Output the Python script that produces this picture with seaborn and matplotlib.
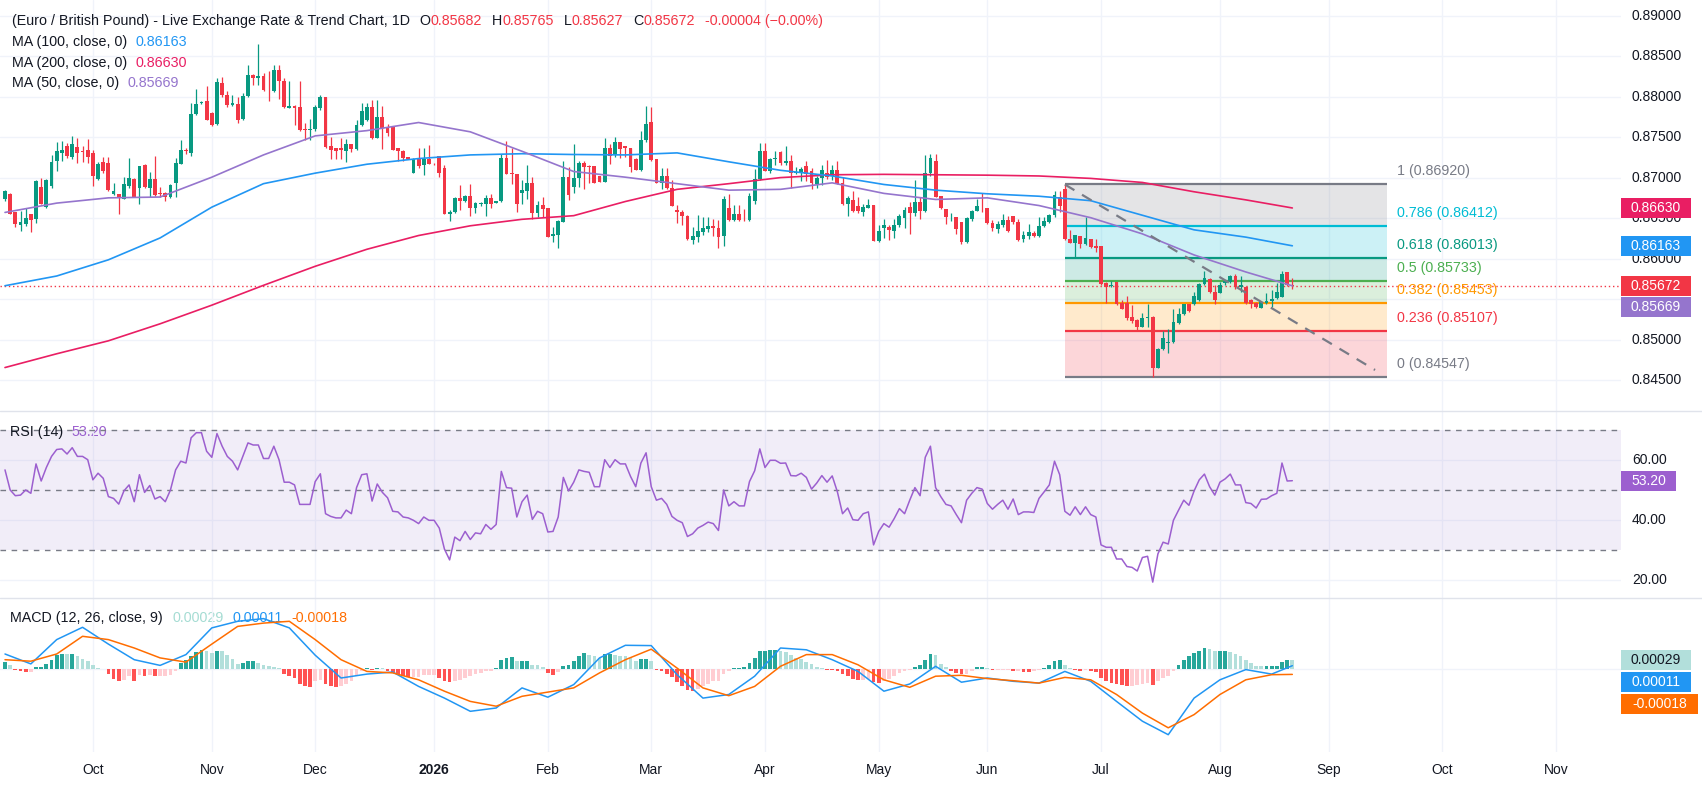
import numpy as np
import pandas as pd
import matplotlib
matplotlib.use("Agg")
import matplotlib.pyplot as plt
import matplotlib.transforms as mtrans
from matplotlib.patches import Rectangle
from matplotlib.lines import Line2D
import seaborn as sns

W, H = 1702, 791

# ---------------- data (EUR/GBP daily, 2025-09-08 .. 2026-08-21) ----------------
first_day = "2025-09-08"

opens = [
    0.86745, 0.86800, 0.86575, 0.86415, 0.86430, 0.86560, 0.86490, 0.86890, 0.86645, 0.86900,
    0.87210, 0.87310, 0.87390, 0.87260, 0.87380, 0.87330, 0.87350, 0.87310, 0.86990, 0.87195,
    0.87190, 0.86800, 0.86800, 0.86745, 0.86900, 0.86985, 0.86880, 0.87160, 0.86880, 0.86985,
    0.86810, 0.86820, 0.86760, 0.86940, 0.87170, 0.87345, 0.87310, 0.87790, 0.87925, 0.87945,
    0.87805, 0.87670, 0.88170, 0.88030, 0.87900, 0.87915, 0.87730, 0.88010, 0.88275, 0.88235,
    0.88265, 0.88090, 0.88080, 0.88330, 0.88195, 0.87865, 0.87895, 0.87875, 0.87610, 0.87590,
    0.87600, 0.87865, 0.87995, 0.87390, 0.87370, 0.87370, 0.87330, 0.87420, 0.87360, 0.87650,
    0.87720, 0.87875, 0.87495, 0.87750, 0.87630, 0.87630, 0.87365, 0.87330, 0.87260, 0.87065,
    0.87245, 0.87155, 0.87235, 0.87175, 0.87270, 0.87125, 0.86560, 0.86575, 0.86750, 0.86710,
    0.86780, 0.86635, 0.86675, 0.86675, 0.86755, 0.86690, 0.86715, 0.87250, 0.87060, 0.87045,
    0.86820, 0.86840, 0.86940, 0.86565, 0.86670, 0.86625, 0.86285, 0.86300, 0.86460, 0.87010,
    0.86890, 0.86995, 0.87180, 0.87150, 0.87145, 0.87025, 0.86955, 0.87375, 0.87280, 0.87440,
    0.87390, 0.87375, 0.87240, 0.87095, 0.87470, 0.87695, 0.87230, 0.86940, 0.87025, 0.86875,
    0.86610, 0.86585, 0.86535, 0.86240, 0.86270, 0.86330, 0.86370, 0.86410, 0.86385, 0.86280,
    0.86635, 0.86480, 0.86560, 0.86485, 0.86480, 0.86720, 0.86990, 0.87335, 0.87090, 0.87235,
    0.87315, 0.87185, 0.87205, 0.87065, 0.87065, 0.87145, 0.87085, 0.86930, 0.87005, 0.87065,
    0.87025, 0.87095, 0.86940, 0.86685, 0.86725, 0.86655, 0.86575, 0.86635, 0.86670, 0.86220,
    0.86385, 0.86395, 0.86345, 0.86415, 0.86500, 0.86640, 0.86565, 0.86700, 0.86590, 0.87065,
    0.87205, 0.86780, 0.86615, 0.86500, 0.86515, 0.86455, 0.86210, 0.86495, 0.86595, 0.86660,
    0.86635, 0.86440, 0.86375, 0.86425, 0.86485, 0.86525, 0.86460, 0.86250, 0.86290, 0.86320,
    0.86285, 0.86405, 0.86455, 0.86540, 0.86765, 0.86865, 0.86250, 0.86200, 0.86280, 0.86180,
    0.86245, 0.86155, 0.86155, 0.85700, 0.85665, 0.85710, 0.85460, 0.85460, 0.85290, 0.85250,
    0.85165, 0.85275, 0.85290, 0.84660, 0.84890, 0.84960, 0.84970, 0.85205, 0.85320, 0.85445,
    0.85445, 0.85495, 0.85690, 0.85750, 0.85595, 0.85585, 0.85700, 0.85720, 0.85790, 0.85650,
    0.85655, 0.85495, 0.85460, 0.85400, 0.85460, 0.85485, 0.85515, 0.85535, 0.85835, 0.85682,
]
highs = [
    0.86850, 0.86820, 0.86575, 0.86590, 0.86630, 0.86560, 0.86980, 0.87000, 0.86985, 0.87290,
    0.87450, 0.87460, 0.87430, 0.87520, 0.87490, 0.87400, 0.87480, 0.87350, 0.87200, 0.87260,
    0.87260, 0.86940, 0.86800, 0.87010, 0.87250, 0.87000, 0.87150, 0.87170, 0.87080, 0.87270,
    0.86890, 0.86830, 0.86920, 0.87250, 0.87470, 0.87370, 0.87920, 0.88100, 0.87950, 0.88130,
    0.87810, 0.88230, 0.88250, 0.88080, 0.88030, 0.88000, 0.88050, 0.88400, 0.88290, 0.88650,
    0.88300, 0.88320, 0.88400, 0.88400, 0.88230, 0.88200, 0.87900, 0.88200, 0.87680, 0.87730,
    0.87900, 0.88030, 0.88000, 0.87500, 0.87370, 0.87490, 0.87480, 0.87420, 0.87720, 0.87930,
    0.87930, 0.87960, 0.87960, 0.87890, 0.87670, 0.87640, 0.87370, 0.87340, 0.87260, 0.87245,
    0.87370, 0.87370, 0.87410, 0.87180, 0.87270, 0.87160, 0.86610, 0.86760, 0.86910, 0.86790,
    0.86920, 0.86700, 0.86700, 0.86790, 0.86800, 0.86720, 0.87300, 0.87455, 0.87370, 0.87050,
    0.86980, 0.87160, 0.87010, 0.86720, 0.86760, 0.86630, 0.86390, 0.86480, 0.87205, 0.87135,
    0.87420, 0.87205, 0.87215, 0.87155, 0.87145, 0.87030, 0.87490, 0.87420, 0.87510, 0.87450,
    0.87390, 0.87375, 0.87245, 0.87585, 0.87890, 0.87880, 0.87235, 0.87125, 0.87125, 0.86980,
    0.86665, 0.86605, 0.86545, 0.86390, 0.86545, 0.86520, 0.86520, 0.86490, 0.86480, 0.86780,
    0.86800, 0.86670, 0.86670, 0.86615, 0.86810, 0.87105, 0.87430, 0.87430, 0.87245, 0.87335,
    0.87330, 0.87400, 0.87280, 0.87135, 0.87135, 0.87215, 0.87125, 0.87025, 0.87165, 0.87225,
    0.87160, 0.87205, 0.87010, 0.86780, 0.86835, 0.86765, 0.86680, 0.86740, 0.86670, 0.86415,
    0.86495, 0.86415, 0.86495, 0.86555, 0.86640, 0.86705, 0.86970, 0.86760, 0.87290, 0.87295,
    0.87295, 0.86780, 0.86615, 0.86565, 0.86515, 0.86455, 0.86515, 0.86605, 0.86745, 0.86815,
    0.86635, 0.86480, 0.86475, 0.86555, 0.86525, 0.86525, 0.86490, 0.86340, 0.86435, 0.86350,
    0.86520, 0.86520, 0.86560, 0.86840, 0.86845, 0.86920, 0.86355, 0.86295, 0.86280, 0.86520,
    0.86245, 0.86250, 0.86155, 0.85720, 0.85730, 0.85720, 0.85495, 0.85540, 0.85430, 0.85255,
    0.85330, 0.85440, 0.85300, 0.84900, 0.85115, 0.85135, 0.85380, 0.85390, 0.85450, 0.85450,
    0.85595, 0.85705, 0.85855, 0.85760, 0.85680, 0.85720, 0.85740, 0.85800, 0.85815, 0.85790,
    0.85665, 0.85500, 0.85475, 0.85480, 0.85575, 0.85615, 0.85705, 0.85855, 0.85840, 0.85765,
]
lows = [
    0.86715, 0.86550, 0.86390, 0.86350, 0.86410, 0.86330, 0.86450, 0.86675, 0.86635, 0.86880,
    0.87090, 0.87210, 0.87250, 0.87240, 0.87190, 0.87200, 0.87190, 0.86900, 0.86980, 0.87060,
    0.86840, 0.86790, 0.86560, 0.86740, 0.86880, 0.86760, 0.86680, 0.86880, 0.86760, 0.86780,
    0.86760, 0.86720, 0.86755, 0.86760, 0.87170, 0.87300, 0.87270, 0.87780, 0.87910, 0.87720,
    0.87640, 0.87660, 0.88000, 0.87880, 0.87890, 0.87680, 0.87720, 0.88000, 0.88150, 0.88150,
    0.88080, 0.87950, 0.88060, 0.87980, 0.87860, 0.87860, 0.87660, 0.87580, 0.87470, 0.87470,
    0.87580, 0.87840, 0.87370, 0.87230, 0.87230, 0.87230, 0.87200, 0.87320, 0.87350, 0.87640,
    0.87700, 0.87480, 0.87490, 0.87360, 0.87520, 0.87340, 0.87210, 0.87210, 0.87230, 0.87065,
    0.87120, 0.87040, 0.87170, 0.87160, 0.87010, 0.86550, 0.86470, 0.86570, 0.86600, 0.86700,
    0.86530, 0.86570, 0.86660, 0.86530, 0.86630, 0.86690, 0.86700, 0.87045, 0.86930, 0.86580,
    0.86675, 0.86735, 0.86495, 0.86515, 0.86515, 0.86270, 0.86210, 0.86135, 0.86455, 0.86725,
    0.86820, 0.86890, 0.86870, 0.86940, 0.86940, 0.86950, 0.86945, 0.87175, 0.87265, 0.87245,
    0.87265, 0.87070, 0.87095, 0.87085, 0.87450, 0.87205, 0.86935, 0.86870, 0.86860, 0.86650,
    0.86440, 0.86425, 0.86230, 0.86190, 0.86210, 0.86300, 0.86330, 0.86280, 0.86130, 0.86165,
    0.86475, 0.86475, 0.86475, 0.86475, 0.86475, 0.86685, 0.86980, 0.87085, 0.87060, 0.87165,
    0.87165, 0.87165, 0.86875, 0.87045, 0.86965, 0.86965, 0.86860, 0.86875, 0.86915, 0.86985,
    0.86970, 0.86930, 0.86670, 0.86535, 0.86575, 0.86565, 0.86535, 0.86635, 0.86220, 0.86210,
    0.86260, 0.86240, 0.86260, 0.86400, 0.86385, 0.86310, 0.86535, 0.86495, 0.86585, 0.87025,
    0.86760, 0.86615, 0.86435, 0.86475, 0.86310, 0.86190, 0.86200, 0.86475, 0.86595, 0.86575,
    0.86435, 0.86350, 0.86320, 0.86400, 0.86330, 0.86435, 0.86220, 0.86210, 0.86250, 0.86270,
    0.86270, 0.86390, 0.86440, 0.86520, 0.86580, 0.86240, 0.86200, 0.86020, 0.86130, 0.86170,
    0.86140, 0.86090, 0.85680, 0.85460, 0.85650, 0.85430, 0.85380, 0.85250, 0.85210, 0.85110,
    0.85165, 0.85165, 0.84547, 0.84650, 0.84880, 0.84835, 0.84960, 0.85200, 0.85310, 0.85350,
    0.85430, 0.85485, 0.85680, 0.85585, 0.85440, 0.85575, 0.85680, 0.85705, 0.85635, 0.85595,
    0.85450, 0.85390, 0.85390, 0.85390, 0.85450, 0.85405, 0.85500, 0.85530, 0.85665, 0.85627,
]
closes = [
    0.86840, 0.86560, 0.86430, 0.86460, 0.86510, 0.86480, 0.86960, 0.86685, 0.86975, 0.87195,
    0.87330, 0.87350, 0.87270, 0.87415, 0.87310, 0.87320, 0.87260, 0.87025, 0.87175, 0.87085,
    0.86850, 0.86840, 0.86760, 0.86920, 0.87005, 0.86765, 0.87145, 0.86890, 0.86985, 0.86785,
    0.86800, 0.86765, 0.86915, 0.87180, 0.87340, 0.87335, 0.87795, 0.87915, 0.87935, 0.87720,
    0.87660, 0.88185, 0.88030, 0.87905, 0.87925, 0.87720, 0.88010, 0.88275, 0.88235, 0.88260,
    0.88090, 0.88085, 0.88330, 0.88195, 0.87875, 0.87895, 0.87865, 0.87590, 0.87590, 0.87605,
    0.87875, 0.87995, 0.87380, 0.87350, 0.87330, 0.87350, 0.87415, 0.87360, 0.87660, 0.87830,
    0.87875, 0.87495, 0.87750, 0.87620, 0.87550, 0.87350, 0.87330, 0.87250, 0.87240, 0.87235,
    0.87145, 0.87235, 0.87175, 0.87170, 0.87065, 0.86560, 0.86580, 0.86750, 0.86710, 0.86780,
    0.86635, 0.86695, 0.86695, 0.86755, 0.86685, 0.86715, 0.87250, 0.87055, 0.87050, 0.86685,
    0.86850, 0.86940, 0.86565, 0.86670, 0.86615, 0.86270, 0.86310, 0.86475, 0.87010, 0.86790,
    0.87005, 0.87180, 0.87135, 0.87140, 0.86940, 0.86955, 0.87375, 0.87275, 0.87440, 0.87360,
    0.87370, 0.87135, 0.87095, 0.87475, 0.87670, 0.87220, 0.86940, 0.87025, 0.86875, 0.86655,
    0.86575, 0.86525, 0.86250, 0.86280, 0.86340, 0.86380, 0.86410, 0.86385, 0.86270, 0.86740,
    0.86480, 0.86560, 0.86480, 0.86480, 0.86780, 0.86990, 0.87330, 0.87090, 0.87240, 0.87245,
    0.87185, 0.87215, 0.87065, 0.87075, 0.87105, 0.87050, 0.86940, 0.86995, 0.87095, 0.87010,
    0.87095, 0.86930, 0.86685, 0.86750, 0.86595, 0.86595, 0.86645, 0.86670, 0.86220, 0.86340,
    0.86415, 0.86360, 0.86425, 0.86525, 0.86600, 0.86565, 0.86700, 0.86590, 0.87065, 0.87250,
    0.86765, 0.86635, 0.86515, 0.86505, 0.86375, 0.86210, 0.86505, 0.86590, 0.86655, 0.86650,
    0.86440, 0.86380, 0.86435, 0.86485, 0.86350, 0.86455, 0.86240, 0.86295, 0.86330, 0.86285,
    0.86410, 0.86470, 0.86540, 0.86785, 0.86650, 0.86250, 0.86200, 0.86295, 0.86180, 0.86265,
    0.86150, 0.86140, 0.85690, 0.85650, 0.85680, 0.85440, 0.85380, 0.85270, 0.85240, 0.85165,
    0.85275, 0.85290, 0.84650, 0.84890, 0.85020, 0.84970, 0.85220, 0.85320, 0.85440, 0.85360,
    0.85540, 0.85690, 0.85770, 0.85595, 0.85495, 0.85680, 0.85725, 0.85790, 0.85650, 0.85680,
    0.85460, 0.85440, 0.85405, 0.85475, 0.85485, 0.85500, 0.85595, 0.85820, 0.85676, 0.85672,
]

# moving averages at every 10th bar
ma_idx = [0, 10, 20, 30, 40, 50, 60, 70, 80, 90, 100, 110, 120, 130, 140, 150,
          160, 170, 180, 190, 200, 210, 220, 230, 240, 249]
ma50 = [0.86575, 0.86690, 0.86755, 0.86765, 0.87010, 0.87285, 0.87520, 0.87585, 0.87685,
        0.87570, 0.87330, 0.87080, 0.87010, 0.86930, 0.86850, 0.86860, 0.86940, 0.86810,
        0.86735, 0.86755, 0.86660, 0.86510, 0.86310, 0.86050, 0.85840, 0.85669]
ma100 = [0.85670, 0.85790, 0.85990, 0.86260, 0.86640, 0.86930, 0.87060, 0.87170, 0.87240,
         0.87285, 0.87300, 0.87290, 0.87285, 0.87310, 0.87200, 0.87095, 0.87025, 0.86920,
         0.86850, 0.86805, 0.86775, 0.86720, 0.86540, 0.86360, 0.86270, 0.86163]
ma200 = [0.84660, 0.84830, 0.84990, 0.85200, 0.85430, 0.85675, 0.85910, 0.86120, 0.86290,
         0.86410, 0.86490, 0.86535, 0.86710, 0.86860, 0.86930, 0.87005, 0.87040, 0.87045,
         0.87040, 0.87035, 0.87025, 0.86995, 0.86945, 0.86830, 0.86730, 0.86630]

rsi = [
    56.8, 50.1, 48.2, 48.4, 50.1, 49.0, 58.8, 53.1, 57.6, 61.3,
    63.6, 63.8, 62.1, 64.2, 61.3, 61.3, 60.2, 53.5, 55.7, 54.0,
    47.9, 47.3, 45.4, 49.8, 51.8, 46.2, 55.2, 49.3, 51.6, 47.1,
    47.9, 46.2, 50.1, 56.8, 59.7, 59.1, 67.5, 69.2, 69.2, 63.0,
    61.0, 68.9, 64.7, 61.3, 59.7, 56.8, 61.3, 65.8, 65.1, 65.1,
    60.6, 60.6, 64.7, 60.2, 52.7, 52.7, 51.8, 45.3, 45.3, 45.3,
    52.9, 55.5, 42.2, 41.3, 40.8, 40.8, 43.4, 42.2, 50.9, 55.2,
    55.5, 46.4, 52.1, 49.3, 47.5, 43.0, 42.8, 41.1, 40.8, 40.0,
    38.9, 41.1, 40.0, 40.0, 37.4, 30.4, 26.8, 34.4, 33.2, 36.3,
    33.6, 35.8, 35.5, 38.6, 37.0, 38.6, 56.3, 50.9, 50.7, 41.1,
    46.2, 48.4, 40.3, 43.0, 42.2, 36.1, 36.3, 41.1, 54.3, 49.8,
    52.7, 56.8, 56.3, 56.0, 51.2, 51.2, 60.2, 57.6, 60.2, 58.8,
    58.8, 54.6, 51.2, 59.1, 62.5, 51.2, 46.7, 47.3, 45.3, 41.3,
    40.0, 39.2, 34.6, 35.5, 37.4, 38.3, 39.4, 38.9, 36.6, 50.1,
    44.8, 46.2, 44.8, 44.8, 52.9, 56.5, 63.8, 57.6, 60.0, 60.0,
    59.0, 59.1, 54.9, 54.8, 55.7, 54.3, 50.4, 52.4, 54.9, 52.7,
    54.8, 49.5, 42.2, 44.1, 40.2, 40.0, 42.2, 42.8, 31.8, 36.3,
    38.9, 37.7, 40.6, 43.9, 42.2, 46.7, 50.9, 48.2, 61.0, 64.7,
    50.9, 47.9, 45.3, 44.8, 41.9, 39.2, 46.7, 49.0, 50.9, 50.4,
    45.6, 43.7, 45.3, 46.7, 43.7, 47.1, 41.9, 42.8, 42.8, 42.6,
    47.3, 49.5, 51.8, 59.7, 55.2, 43.0, 41.7, 44.5, 41.9, 44.5,
    41.9, 41.1, 31.8, 31.0, 31.0, 27.1, 27.1, 24.6, 24.3, 23.1,
    27.6, 28.0, 19.4, 28.8, 32.7, 32.1, 40.0, 43.4, 46.7, 45.0,
    49.8, 53.5, 55.4, 51.2, 48.4, 52.7, 53.8, 55.4, 51.8, 51.8,
    45.9, 45.6, 44.1, 47.0, 47.1, 48.2, 49.0, 59.1, 53.1, 53.2,
]

# MACD (12, 26, 9), values in units of 1e-5
macd_idx = [0, 5, 10, 15, 20, 25, 30, 35, 40, 45, 50, 55, 60, 65, 70, 75, 80, 85, 90, 95,
            100, 105, 110, 115, 120, 125, 130, 135, 140, 145, 150, 155, 160, 165, 170, 175,
            180, 185, 190, 195, 200, 205, 210, 215, 220, 225, 230, 235, 240, 245, 249]
macd_line = [50, 17, 98, 139, 83, 31, 12, 48, 137, 159, 168, 137, 46, -30, -17, -10, -58,
             -97, -141, -130, -63, -94, -52, 37, 79, 78, -19, -97, -85, -24, 70, 64, 31, -8,
             -74, -50, 9, -44, -30, -41, -47, -8, -41, -108, -174, -219, -97, -36, -2, -17, 11]
macd_signal = [31, 26, 50, 109, 98, 70, 37, 23, 83, 142, 153, 159, 98, 31, -8, -13, -36,
               -74, -108, -124, -91, -77, -63, -13, 31, 66, 3, -63, -89, -58, 9, 48, 48, 14,
               -36, -61, -24, -21, -32, -39, -47, -28, -36, -85, -147, -196, -152, -85, -36,
               -19, -18]
macd_hist = [
    25, 14, -2, -8, -11, -11, 7, 7, 17, 31,
    46, 51, 50, 51, 42, 34, 28, 12, 3, -1,
    -17, -32, -41, -36, -24, -39, -21, -24, -19, -24,
    -24, -24, -21, -8, 20, 31, 42, 57, 64, 59,
    53, 61, 59, 46, 34, 17, 20, 26, 26, 20,
    14, 9, 7, 3, -17, -24, -30, -50, -58, -61,
    -41, -36, -50, -58, -61, -55, -50, -39, -24, -8,
    4, -4, 4, 3, -8, -13, -21, -24, -28, -28,
    -28, -21, -21, -21, -30, -41, -43, -41, -36, -30,
    -24, -17, -13, -8, -6, 3, 31, 37, 40, 28,
    28, 28, 14, 12, 6, -13, -21, -11, 9, 14,
    26, 42, 53, 46, 45, 37, 50, 51, 46, 45,
    42, 37, 28, 34, 35, 26, -4, -8, -17, -28,
    -43, -58, -69, -74, -65, -58, -50, -41, -39, -17,
    -8, 3, 3, 7, 20, 37, 59, 61, 64, 64,
    59, 57, 46, 37, 34, 23, 17, 6, 3, -2,
    -4, -8, -17, -24, -32, -36, -36, -32, -43, -47,
    -41, -32, -24, -13, -8, -2, 7, 14, 31, 50,
    46, 17, 7, -8, -13, -17, -17, -8, 7, 8,
    3, -4, -4, -4, -4, -8, -8, -10, -11, -8,
    -4, 3, 12, 26, 31, 14, 3, -2, -8, -4,
    -8, -11, -30, -41, -47, -50, -54, -58, -58, -54,
    -50, -47, -52, -41, -30, -24, -8, 14, 31, 42,
    53, 61, 70, 67, 61, 61, 61, 57, 50, 42,
    31, 20, 11, 9, 9, 9, 9, 24, 30, 29,
]

price_ticks = [0.845, 0.850, 0.855, 0.860, 0.865, 0.870, 0.875, 0.880, 0.885, 0.890]
rsi_ticks = [20, 40, 60]

# fibonacci retracement tool (anchored on the June high and the July low)
fib_levels = [0, 0.236, 0.382, 0.5, 0.618, 0.786, 1]
fib_colors = ["#787B86", "#F23645", "#FF9800", "#4CAF50", "#089981", "#00BCD4", "#787B86"]
fib_low, fib_high = 0.845466, 0.869200
fib_start, fib_end = 205, 267.3
trend_x = [205, 265]
trend_y = [0.86920, 0.84630]

# ---------------- styling ----------------
sns.set_theme(style="white")
plt.rcParams["font.family"] = ["Liberation Sans", "DejaVu Sans"]
TXT = "#131722"
GRID = "#F0F3FA"
GREEN, RED = "#089981", "#F23645"
C_MA50, C_MA100, C_MA200 = "#9575CD", "#2196F3", "#E91E63"
C_RSI = "#9C5FCF"
C_MACD, C_SIG = "#2196F3", "#FF6D00"
FS = 10
FS_LEG = 10.3

n = len(closes)
x = np.arange(n)
o, h, l, c = (np.array(v) for v in (opens, highs, lows, closes))

dates = pd.bdate_range(first_day, periods=n + 70)
month_pos, month_lab = [], []
for i in range(1, len(dates)):
    if dates[i].month != dates[i - 1].month:
        month_pos.append(i)
        month_lab.append(str(dates[i].year) if dates[i].month == 1 else dates[i].strftime("%b"))

fig = plt.figure(figsize=(W / 100, H / 100), dpi=100)
fig.patch.set_facecolor("white")


def panel(top, bottom):
    return fig.add_axes([0, 1 - bottom / H, 1621 / W, (bottom - top) / H])


ax_p = panel(0, 411)
ax_r = panel(411, 598)
ax_m = panel(598, 752)
x_left = -5 / 5.17
x_right = 1616 / 5.17
for ax in (ax_p, ax_r, ax_m):
    ax.set_xlim(x_left, x_right)
    ax.set_axis_off()
    for m in month_pos:
        ax.axvline(m, color=GRID, lw=1, zorder=0)

ax_p.set_ylim(0.860 - 152 / 8100, 0.860 + 259 / 8100)
ax_r.set_ylim(50 - 107.7 / 3, 50 + 79.3 / 3)
ax_m.set_ylim(-83 / 30000, 71 / 30000)

# ---------------- price panel ----------------
for p in price_ticks:
    ax_p.axhline(p, color=GRID, lw=1, zorder=0)

fib_p = [fib_low + f * (fib_high - fib_low) for f in fib_levels]
for i in range(len(fib_levels) - 1):
    ax_p.fill_between([fib_start, fib_end], fib_p[i], fib_p[i + 1],
                      color=fib_colors[i + 1], alpha=0.2, lw=0, zorder=1)
ax_p.hlines(fib_p, fib_start, fib_end, colors=fib_colors, lw=1.6, zorder=2)
for f, p, col in zip(fib_levels, fib_p, fib_colors):
    ax_p.annotate(f"{f:g} ({p:.5f})", xy=(fib_end, p), xytext=(10, 13),
                  textcoords="offset pixels", va="center", ha="left",
                  color=col, fontsize=FS_LEG, annotation_clip=False)

ax_p.axhline(c[-1], color=RED, lw=1, ls=(0, (1, 2)), zorder=2)

up = c >= o
col = np.where(up, GREEN, RED)
ax_p.vlines(x, l, h, colors=col, lw=0.9, zorder=3)
ax_p.bar(x, np.maximum(np.abs(c - o), 0.000015), bottom=np.minimum(o, c),
         width=0.74, color=col, lw=0, zorder=4)

for vals, colr in ((ma200, C_MA200), (ma100, C_MA100), (ma50, C_MA50)):
    sns.lineplot(x=ma_idx, y=vals, ax=ax_p, color=colr, lw=1.2, legend=False, zorder=5)

ax_p.plot(trend_x, trend_y, color="#787B86", lw=1.6, ls=(0, (5, 4)), zorder=6)

# ---------------- RSI panel ----------------
for v in rsi_ticks:
    ax_r.axhline(v, color=GRID, lw=1, zorder=0)
ax_r.axhspan(30, 70, color="#7E57C2", alpha=0.1, lw=0, zorder=1)
for v in (70, 50, 30):
    ax_r.axhline(v, color="#787B86", lw=1, ls=(0, (4, 4)), zorder=2)
sns.lineplot(x=x, y=rsi, ax=ax_r, color=C_RSI, lw=1.1, legend=False, zorder=3)

# ---------------- MACD panel ----------------
hist = np.array(macd_hist) * 1e-5
hcol = []
for i, v in enumerate(hist):
    prev = hist[i - 1] if i else v
    if v >= 0:
        hcol.append("#26A69A" if v >= prev else "#B2DFDB")
    else:
        hcol.append("#FF5252" if v < prev else "#FFCDD2")
ax_m.axhline(0, color=GRID, lw=1, zorder=0)
ax_m.bar(x, hist, width=0.72, color=hcol, lw=0, zorder=2)
sns.lineplot(x=macd_idx, y=np.array(macd_line) * 1e-5, ax=ax_m, color=C_MACD, lw=1.1,
             legend=False, zorder=3)
sns.lineplot(x=macd_idx, y=np.array(macd_signal) * 1e-5, ax=ax_m, color=C_SIG, lw=1.1,
             legend=False, zorder=4)

# ---------------- separators ----------------
for yy in (411, 598):
    fig.add_artist(Line2D([0, 1], [1 - yy / H] * 2, color="#E0E3EB", lw=1,
                          transform=fig.transFigure))


# ---------------- right price scale ----------------
def badges(ax, items, gap=21.5):
    pts = [[ax.transData.transform((0, v))[1], s, bg, fg] for v, s, bg, fg in items]
    pts.sort(key=lambda q: -q[0])
    for i in range(1, len(pts)):
        if pts[i - 1][0] - pts[i][0] < gap:
            pts[i][0] = pts[i - 1][0] - gap
    for yp, s, bg, fg in pts:
        wd = 18 + 7.4 * len(s)
        fig.add_artist(Rectangle((1621 / W, (yp - 10) / H), wd / W, 20 / H,
                                 transform=fig.transFigure, color=bg, lw=0, zorder=5))
        fig.text((1621 + wd / 2) / W, yp / H, s, color=fg, fontsize=FS, ha="center",
                 va="center", zorder=6)
    return [q[0] for q in pts]


def scale_labels(ax, ticks, fmt, taken):
    # like the price scale, skip a tick label that sits under a value badge
    for v in ticks:
        yp = ax.transData.transform((0, v))[1]
        if all(abs(yp - b) > 10 for b in taken):
            fig.text(1632 / W, yp / H, fmt.format(v), color=TXT, fontsize=FS, va="center")


taken_p = badges(ax_p, [(ma200[-1], f"{ma200[-1]:.5f}", C_MA200, "white"),
                        (ma100[-1], f"{ma100[-1]:.5f}", C_MA100, "white"),
                        (c[-1], f"{c[-1]:.5f}", RED, "white"),
                        (ma50[-1], f"{ma50[-1]:.5f}", C_MA50, "white")])
taken_r = badges(ax_r, [(rsi[-1], f"{rsi[-1]:.2f}", C_RSI, "white")])
badges(ax_m, [(hist[-1], f"{hist[-1]:.5f}", "#B2DFDB", TXT),
              (macd_line[-1] * 1e-5, f"{macd_line[-1] * 1e-5:.5f}", C_MACD, "white"),
              (macd_signal[-1] * 1e-5, f"{macd_signal[-1] * 1e-5:.5f}", C_SIG, "white")],
       gap=22)
scale_labels(ax_p, price_ticks, "{:.5f}", taken_p)
scale_labels(ax_r, rsi_ticks, "{:.2f}", taken_r)


# ---------------- legends ----------------
def chain(x0, y0, parts):
    t = fig.text(x0 / W, 1 - y0 / H, parts[0][0], color=parts[0][1], fontsize=FS_LEG,
                 va="center", ha="left")
    for s, colr, gap in parts[1:]:
        t = ax_p.annotate(s, xy=(1, 0), xycoords=t, xytext=(gap, 0),
                          textcoords="offset pixels", color=colr, fontsize=FS_LEG,
                          va="bottom", ha="left", annotation_clip=False)


chg = c[-1] - c[-2]
pct = chg / c[-2] * 100
chain(11.7, 20.7, [("(Euro / British Pound) - Live Exchange Rate & Trend Chart, 1D", TXT),
                   ("O", TXT, 10), (f"{o[-1]:.5f}", RED, 0),
                   ("H", TXT, 10), (f"{h[-1]:.5f}", RED, 0),
                   ("L", TXT, 10), (f"{l[-1]:.5f}", RED, 0),
                   ("C", TXT, 10), (f"{c[-1]:.5f}", RED, 0),
                   (f"{chg:+.5f} ({pct:+.2f}%)".replace("(-", "(\u2212"), RED, 10)])
chain(11.7, 42.3, [("MA (100, close, 0)", TXT), (f"{ma100[-1]:.5f}", C_MA100, 9)])
chain(11.7, 62.7, [("MA (200, close, 0)", TXT), (f"{ma200[-1]:.5f}", C_MA200, 9)])
chain(11.7, 83.3, [("MA (50, close, 0)", TXT), (f"{ma50[-1]:.5f}", C_MA50, 9)])
chain(10.5, 431.7, [("RSI (14)", TXT), (f"{rsi[-1]:.2f}", C_RSI, 8)])
chain(10.5, 618.3, [("MACD (12, 26, close, 9)", TXT),
                    (f"{hist[-1]:.5f}", "#A5DCD3", 9),
                    (f"{macd_line[-1] * 1e-5:.5f}", C_MACD, 9),
                    (f"{macd_signal[-1] * 1e-5:.5f}", C_SIG, 9)])

# ---------------- time scale ----------------
tr = mtrans.blended_transform_factory(ax_m.transData, fig.transFigure)
for m, lab in zip(month_pos, month_lab):
    ax_m.text(m, 1 - 770 / H, lab, transform=tr, ha="center", va="center", color=TXT,
              fontsize=FS, fontweight="bold" if lab.isdigit() else "normal", clip_on=False)

fig.savefig("out.png", dpi=100, facecolor="white")
